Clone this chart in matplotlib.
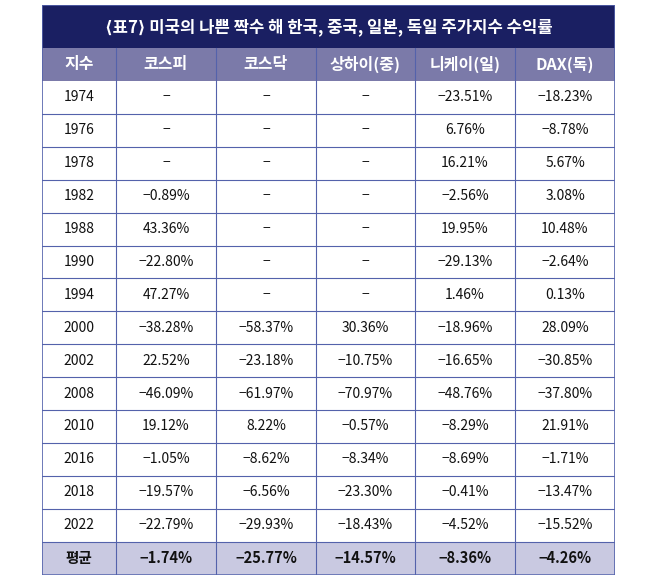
import matplotlib
matplotlib.use("Agg")
import matplotlib.pyplot as plt
from matplotlib.patches import Rectangle

plt.rcParams['font.family'] = ['Noto Sans CJK KR', 'DejaVu Sans']

title = "⟨표7⟩ 미국의 나쁜 짝수 해 한국, 중국, 일본, 독일 주가지수 수익률"
columns = ["지수", "코스피", "코스닥", "상하이(중)", "니케이(일)", "DAX(독)"]
years = [1974, 1976, 1978, 1982, 1988, 1990, 1994, 2000, 2002, 2008, 2010, 2016, 2018, 2022]
kospi = [None, None, None, -0.89, 43.36, -22.80, 47.27, -38.28, 22.52, -46.09, 19.12, -1.05, -19.57, -22.79]
kosdaq = [None, None, None, None, None, None, None, -58.37, -23.18, -61.97, 8.22, -8.62, -6.56, -29.93]
shanghai = [None, None, None, None, None, None, None, 30.36, -10.75, -70.97, -0.57, -8.34, -23.30, -18.43]
nikkei = [-23.51, 6.76, 16.21, -2.56, 19.95, -29.13, 1.46, -18.96, -16.65, -48.76, -8.29, -8.69, -0.41, -4.52]
dax = [-18.23, -8.78, 5.67, 3.08, 10.48, -2.64, 0.13, 28.09, -30.85, -37.80, 21.91, -1.71, -13.47, -15.52]
avg_label = "평균"
averages = [-1.74, -25.77, -14.57, -8.36, -4.26]

series = [kospi, kosdaq, shanghai, nikkei, dax]


def fmt(v):
    if v is None:
        return "−"
    s = f"{abs(v):.2f}%"
    return ("−" + s) if v < 0 else s


# layout in pixels
col_w = [74, 100, 100, 99, 100, 100]
title_h = 43
head_h = 33
row_h = 32.9
n_rows = len(years) + 1
total_w = sum(col_w)
total_h = title_h + head_h + row_h * n_rows

navy = "#1a1f62"
head_c = "#7b7aa9"
avg_c = "#c9c9e1"
line_c = "#5462ab"

W, H = 650, 582
left, top = 42, 5
fig = plt.figure(figsize=(W / 100, H / 100), dpi=100)
ax = fig.add_axes([left / W, 1 - (top + total_h) / H, total_w / W, total_h / H])
ax.set_xlim(0, total_w)
ax.set_ylim(total_h, 0)
ax.axis("off")

x_edges = [0]
for w in col_w:
    x_edges.append(x_edges[-1] + w)
x_mid = [(x_edges[i] + x_edges[i + 1]) / 2 for i in range(len(col_w))]

# title band
ax.add_patch(Rectangle((0, 0), total_w, title_h, color=navy, lw=0))
ax.text(total_w / 2, title_h / 2 + 1, title, ha="center", va="center",
        color="white", fontsize=12, fontweight="heavy")

# header
ax.add_patch(Rectangle((0, title_h), total_w, head_h, color=head_c, lw=0))
for i, c in enumerate(columns):
    ax.text(x_mid[i], title_h + head_h / 2, c, ha="center", va="center",
            color="white", fontsize=11.5, fontweight="bold")

y0 = title_h + head_h
# data rows
for r, yr in enumerate(years):
    yc = y0 + r * row_h + row_h / 2
    ax.text(x_mid[0], yc, str(yr), ha="center", va="center", fontsize=10, color="#111111")
    for j, s in enumerate(series):
        ax.text(x_mid[j + 1], yc, fmt(s[r]), ha="center", va="center",
                fontsize=10, color="#111111")

# average row
ya = y0 + len(years) * row_h
ax.add_patch(Rectangle((0, ya), total_w, row_h, color=avg_c, lw=0))
ax.text(x_mid[0], ya + row_h / 2, avg_label, ha="center", va="center",
        fontsize=10.5, fontweight="bold", color="#111111")
for j, v in enumerate(averages):
    ax.text(x_mid[j + 1], ya + row_h / 2, fmt(v), ha="center", va="center",
            fontsize=10.5, fontweight="bold", color="#111111")

# grid lines
for r in range(1, n_rows):
    y = y0 + r * row_h
    ax.plot([0, total_w], [y, y], color=line_c, lw=0.8)
for x in x_edges[1:-1]:
    ax.plot([x, x], [title_h, total_h], color=line_c, lw=0.8)
ax.add_patch(Rectangle((0, 0), total_w, total_h, fill=False, ec=line_c, lw=1.2))

fig.savefig("out.png", dpi=100, facecolor="white")
